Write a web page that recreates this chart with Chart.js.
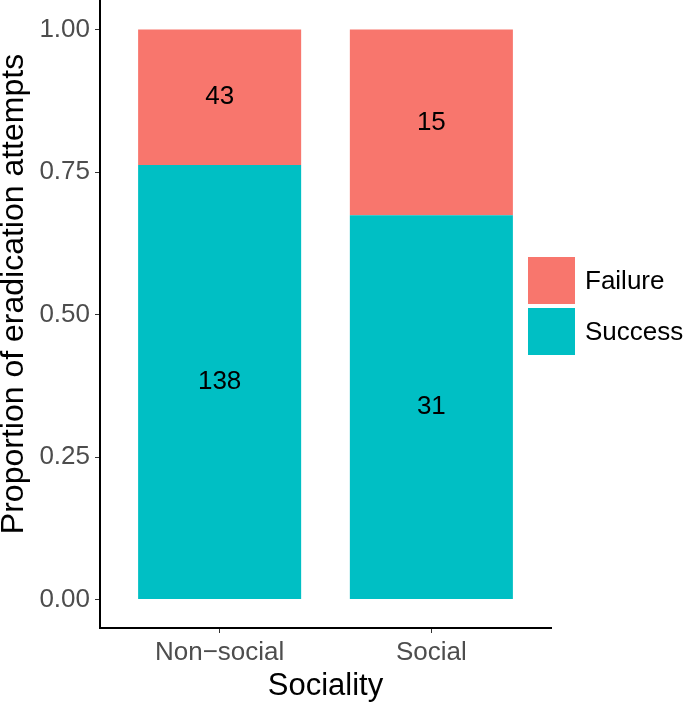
<!DOCTYPE html>
<html>
<head>
<meta charset="utf-8">
<script src="https://cdn.jsdelivr.net/npm/chart.js@4"></script>
<style>
  html, body { margin: 0; padding: 0; background: #fff; }
  #wrap { width: 685px; height: 704px; }
</style>
</head>
<body>
<div id="wrap"><canvas id="chart"></canvas></div>
<script>
const categories = ['Non\u2212social', 'Social'];
const successCounts = [138, 31];
const failureCounts = [43, 15];
const yTicks = [0, 0.25, 0.5, 0.75, 1];

const totals = categories.map((c, i) => successCounts[i] + failureCounts[i]);
const successProp = successCounts.map((v, i) => ({ x: i, y: v / totals[i] }));
const failureProp = failureCounts.map((v, i) => ({ x: i, y: v / totals[i] }));

const FONT = '"Liberation Sans", Arial, sans-serif';

// count labels in the middle of each segment
const countLabels = {
    id: 'countLabels',
    afterDatasetsDraw(chart) {
        const ctx = chart.ctx;
        ctx.save();
        ctx.font = '26px ' + FONT;
        ctx.fillStyle = '#000';
        ctx.textAlign = 'center';
        ctx.textBaseline = 'middle';
        chart.data.datasets.forEach((ds, di) => {
            chart.getDatasetMeta(di).data.forEach((bar, i) => {
                const p = bar.getProps(['x', 'y', 'base'], true);
                ctx.fillText(String(ds.counts[i]), p.x, (p.y + p.base) / 2);
            });
        });
        ctx.restore();
    }
};

// ggplot-style legend on the right + y axis title
const extras = {
    id: 'extras',
    afterDraw(chart) {
        const ctx = chart.ctx;
        const items = chart.data.datasets.slice().reverse();
        const x0 = 528, y0 = 257, size = 47, gap = 4;
        ctx.save();
        ctx.font = '26px ' + FONT;
        ctx.textBaseline = 'middle';
        ctx.textAlign = 'left';
        items.forEach((ds, i) => {
            const y = y0 + i * (size + gap);
            ctx.fillStyle = ds.backgroundColor;
            ctx.fillRect(x0, y, size, size);
            ctx.fillStyle = '#000';
            ctx.fillText(ds.label, x0 + size + 10, y + size / 2 + 1);
        });

        ctx.translate(14, 294);
        ctx.rotate(-Math.PI / 2);
        ctx.font = '32px ' + FONT;
        ctx.textAlign = 'center';
        ctx.fillText('Proportion of eradication attempts', 0, 0);
        ctx.restore();
    }
};

new Chart(document.getElementById('chart'), {
    type: 'bar',
    data: {
        datasets: [{
            label: 'Success',
            data: successProp,
            counts: successCounts,
            backgroundColor: '#00BFC4'
        }, {
            label: 'Failure',
            data: failureProp,
            counts: failureCounts,
            backgroundColor: '#F8766D'
        }]
    },
    options: {
        responsive: true,
        maintainAspectRatio: false,
        animation: false,
        devicePixelRatio: 1,
        layout: { padding: { top: 1, right: 134, left: 0, bottom: 0 } },
        datasets: { bar: { categoryPercentage: 1, barPercentage: 0.77 } },
        plugins: { legend: { display: false }, tooltip: { enabled: false } },
        scales: {
            x: {
                type: 'linear',
                stacked: true,
                offset: false,
                min: -0.565,
                max: 1.565,
                afterFit: s => { s.height = 76; s.paddingLeft = 0; s.paddingRight = 0; },
                afterBuildTicks: s => { s.ticks = categories.map((c, i) => ({ value: i })); },
                grid: { offset: false, drawOnChartArea: false, drawTicks: true, tickLength: 5, color: '#333' },
                border: { display: true, color: '#000', width: 2 },
                ticks: {
                    color: '#4d4d4d', font: { family: FONT, size: 26 }, padding: 4,
                    callback: v => categories[v]
                },
                title: {
                    display: true, text: 'Sociality', color: '#000',
                    font: { family: FONT, size: 31, lineHeight: 0.9 },
                    padding: { top: 0, bottom: 4 }
                }
            },
            y: {
                stacked: true,
                min: -0.05,
                max: 1.05,
                afterFit: s => { s.width = 100; s.paddingTop = 0; s.paddingBottom = 0; },
                afterBuildTicks: s => { s.ticks = yTicks.map(v => ({ value: v })); },
                grid: { drawOnChartArea: false, drawTicks: true, tickLength: 5, color: '#333' },
                border: { display: true, color: '#000', width: 2 },
                ticks: {
                    color: '#4d4d4d', font: { family: FONT, size: 26 }, padding: 5,
                    callback: v => Number(v).toFixed(2)
                }
            }
        }
    },
    plugins: [countLabels, extras]
});
</script>
</body>
</html>
